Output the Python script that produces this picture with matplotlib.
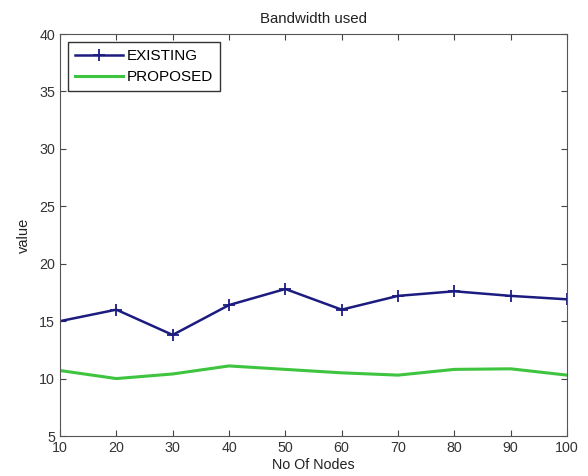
import matplotlib
matplotlib.use("Agg")
import matplotlib.pyplot as plt

nodes = [10, 20, 30, 40, 50, 60, 70, 80, 90, 100]
existing = [15.0, 16.0, 13.8, 16.4, 17.8, 16.0, 17.2, 17.6, 17.2, 16.9]
proposed = [10.7, 10.0, 10.4, 11.1, 10.8, 10.5, 10.3, 10.8, 10.85, 10.3]

plt.rcParams['font.family'] = ['Liberation Sans', 'DejaVu Sans']
plt.rcParams['font.size'] = 10

fig = plt.figure(figsize=(5.88, 4.76), dpi=100)
ax = fig.add_axes([60/588, 40/476, 507/588, 402/476])
ax.plot(nodes, existing, color='#1c1c80', marker='+', markersize=8, markeredgewidth=1.3,
        linewidth=1.8, label='EXISTING')
ax.plot(nodes, proposed, color='#3ec43e', linewidth=2.2, label='PROPOSED')
ax.set_xlim(10, 100)
ax.set_ylim(5, 40)
ax.set_xticks(nodes)
ax.set_yticks(range(5, 41, 5))
ax.tick_params(direction='in', top=True, right=True, length=4, colors='#444444',
               labelcolor='#333333', labelsize=10.3)
for s in ax.spines.values():
    s.set_color('#555555')
ax.set_title('Bandwidth used', fontsize=10.8, pad=8, color='#222222')
ax.set_xlabel('No Of Nodes', labelpad=2, color='#222222', fontsize=10.3)
ax.set_ylabel('value', labelpad=6, color='#222222', fontsize=10.5)
leg = ax.legend(loc='upper left', fancybox=False, edgecolor='#333333', framealpha=1,
                handlelength=3.1, handletextpad=0.25, borderpad=0.45, labelspacing=0.45,
                borderaxespad=0.55, fontsize=11)
leg.get_frame().set_linewidth(1.0)
fig.savefig('out.png', dpi=100)
